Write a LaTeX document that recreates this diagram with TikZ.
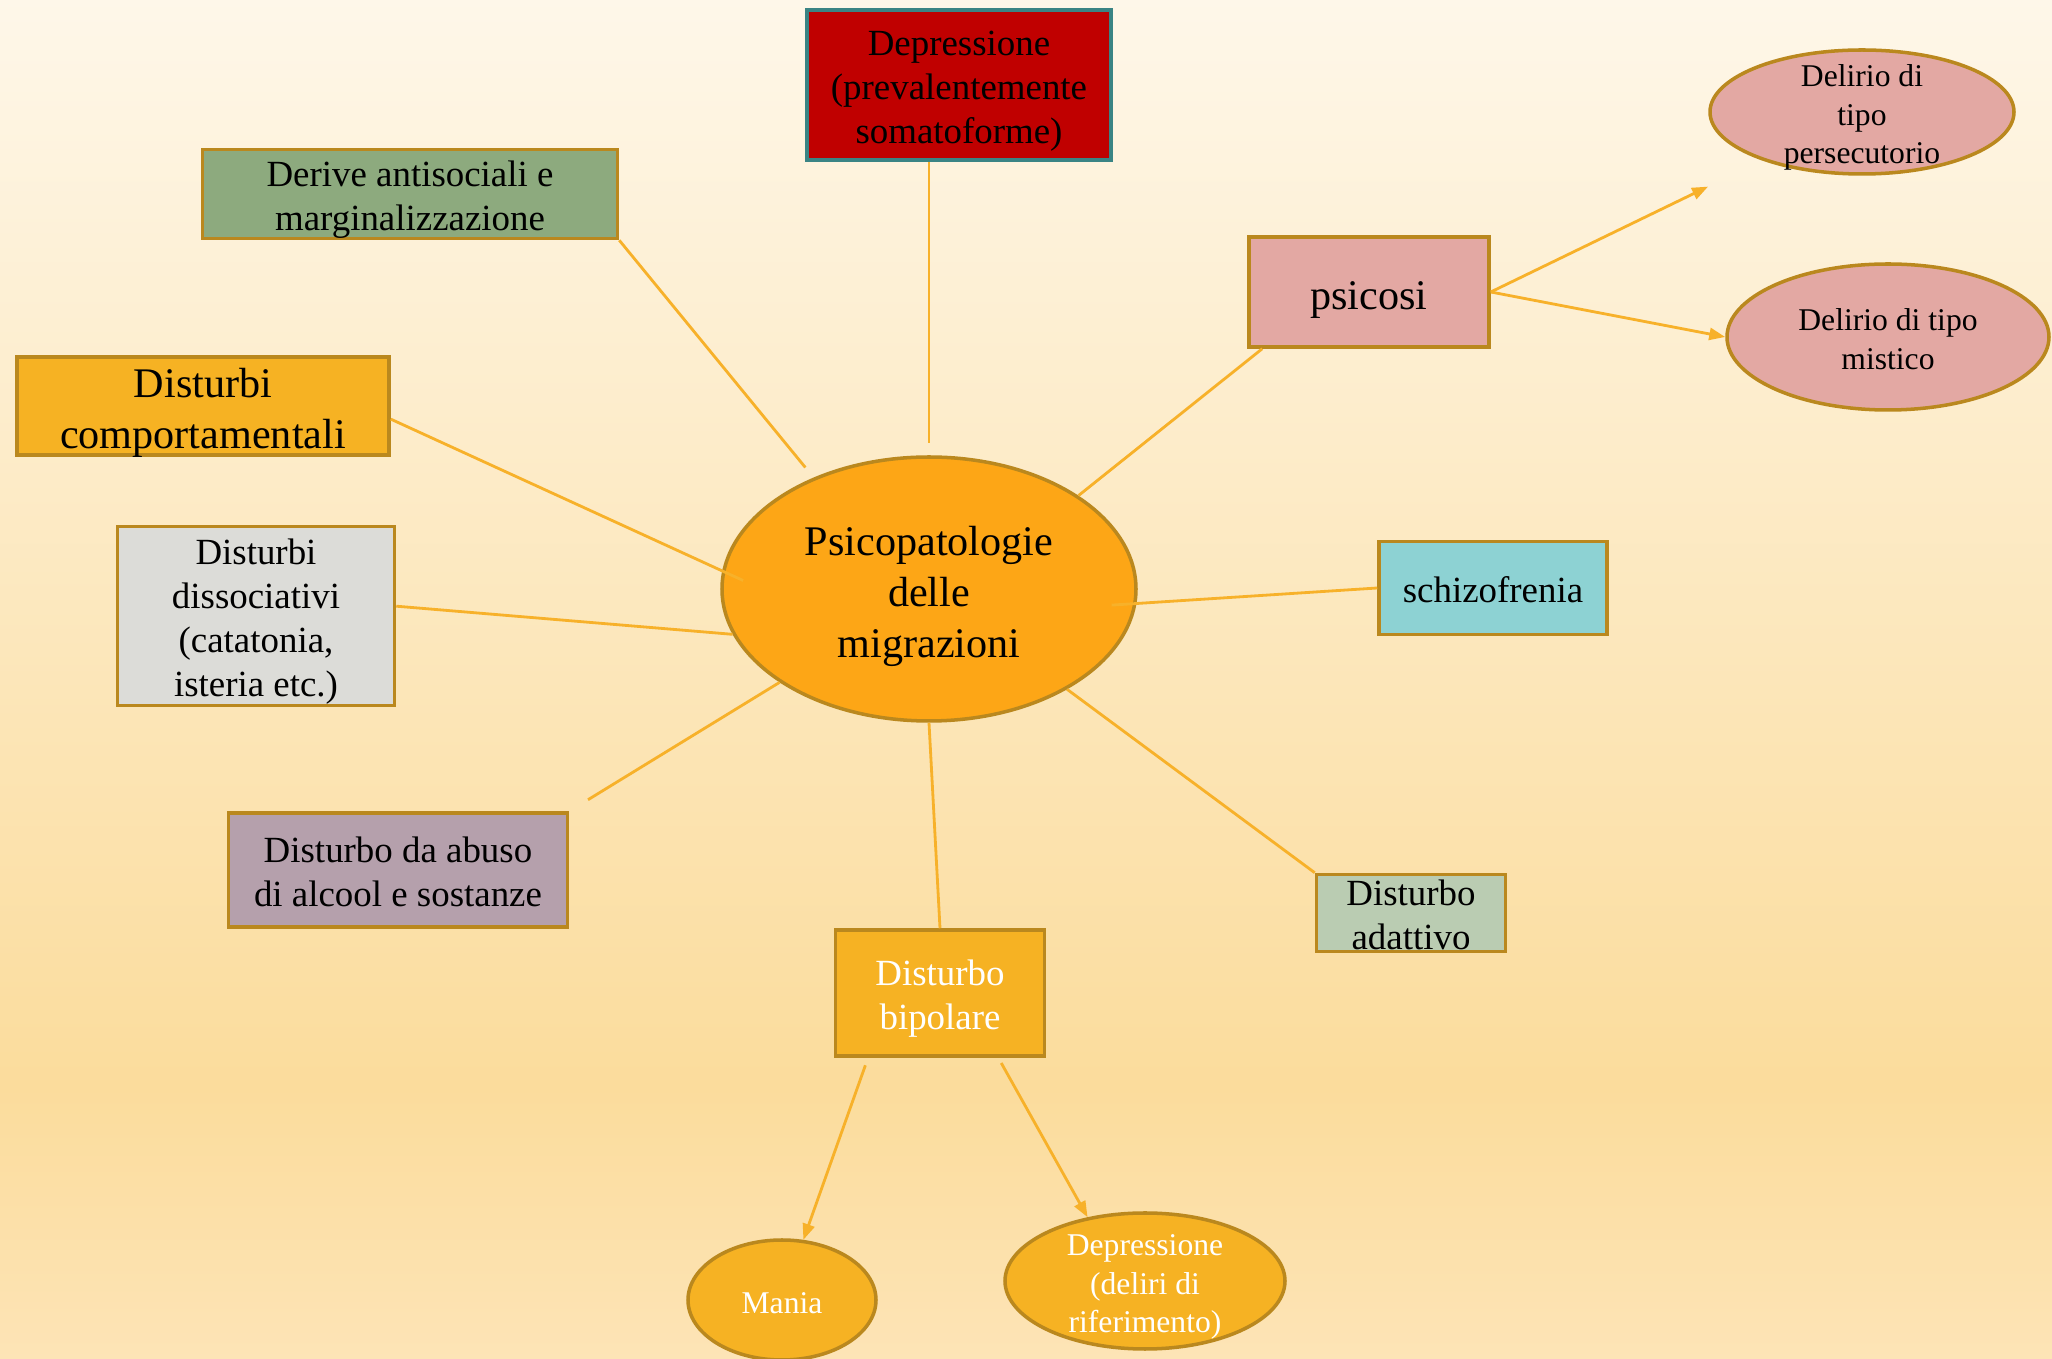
\documentclass[tikz,border=0pt]{standalone}
\usepackage{fontspec}
\setmainfont{Liberation Serif}
\usepackage{tikz}
\usetikzlibrary{arrows.meta,shapes.geometric}
\definecolor{bgtop}{HTML}{FEF7E9}
\definecolor{bgmid}{HTML}{FBDC9C}
\definecolor{bgbot}{HTML}{FDE4B6}
\definecolor{edgegold}{HTML}{BA881E}
\definecolor{linkgold}{HTML}{F7B12A}
\definecolor{deepred}{HTML}{C00000}
\definecolor{tealedge}{HTML}{3A8484}
\definecolor{sage}{HTML}{8DAA7E}
\definecolor{amber}{HTML}{F6B223}
\definecolor{fog}{HTML}{DCDCD8}
\definecolor{mauve}{HTML}{B5A0AC}
\definecolor{palesage}{HTML}{BACCB2}
\definecolor{aqua}{HTML}{8DD2D3}
\definecolor{rose}{HTML}{E3A8A3}
\definecolor{core}{HTML}{FDA616}
% text lines that do not stretch the node
\newcommand{\tx}[1]{\raisebox{-0.42em}[0pt][0pt]{\begin{tabular}{@{}c@{}}#1\end{tabular}}}

\begin{document}
\begin{tikzpicture}[
  x=0.1mm, y=-0.1mm,
  >=Stealth,
  box/.style={rectangle,draw=edgegold,line width=1pt,inner sep=0pt,font=\fontsize{10.5}{12.5}\selectfont},
  bubble/.style={ellipse,draw=edgegold,line width=1pt,inner sep=0pt,font=\fontsize{9}{11}\selectfont},
  big/.style={font=\fontsize{12}{14.5}\selectfont},
  link/.style={draw=linkgold,line width=0.8pt},
  arr/.style={link,-{Triangle[length=1.6mm,width=1.2mm]}}
]
% background
\path[use as bounding box] (0,0) rectangle (2052,1359);
\shade[top color=bgtop,bottom color=bgmid] (0,0) rectangle (2052,1087);
\shade[top color=bgmid,bottom color=bgbot] (0,1087) rectangle (2052,1359);
% centre
\node[bubble,big,fill=core,minimum width=41.4mm,minimum height=26.4mm] (cen) at (929,589)
  {\tx{Psicopatologie\\delle\\migrazioni}};
% boxes round the centre
\node[box,fill=deepred,draw=tealedge,minimum width=30.4mm,minimum height=15mm] (dep) at (959,85)
  {\tx{Depressione\\(prevalentemente\\somatoforme)}};
\node[box,fill=sage,minimum width=41.5mm,minimum height=8.9mm] (der) at (410,194)
  {\tx{Derive antisociali e\\marginalizzazione}};
\node[box,big,fill=amber,minimum width=37.2mm,minimum height=9.8mm] (comp) at (203,406)
  {\tx{Disturbi\\comportamentali}};
\node[box,fill=fog,minimum width=27.7mm,minimum height=17.9mm] (diss) at (256,616)
  {\tx{Disturbi\\dissociativi\\(catatonia,\\isteria etc.)}};
\node[box,fill=mauve,minimum width=33.9mm,minimum height=11.4mm] (abuso) at (398,870)
  {\tx{Disturbo da abuso\\di alcool e sostanze}};
\node[box,fill=amber,text=white,minimum width=20.9mm,minimum height=12.6mm] (bip) at (940,993)
  {\tx{Disturbo\\bipolare}};
\node[box,fill=palesage,minimum width=18.9mm,minimum height=7.7mm] (adat) at (1411,913)
  {\tx{Disturbo\\adattivo}};
\node[box,fill=aqua,minimum width=22.8mm,minimum height=9.3mm] (schizo) at (1493,588)
  {\tx{schizofrenia}};
\node[box,big,fill=rose,minimum width=24mm,minimum height=11mm] (psic) at (1369,292)
  {\tx{psicosi}};
% sub-items
\node[bubble,fill=rose,minimum width=30.4mm,minimum height=12.4mm] (pers) at (1862,112)
  {\tx{Delirio di\\tipo\\persecutorio}};
\node[bubble,fill=rose,minimum width=32.2mm,minimum height=14.6mm] (mist) at (1888,337)
  {\tx{Delirio di tipo\\mistico}};
\node[bubble,fill=amber,text=white,minimum width=18.8mm,minimum height=12mm] (mania) at (782,1300)
  {\tx{Mania}};
\node[bubble,fill=amber,text=white,minimum width=28mm,minimum height=13.6mm] (depr) at (1145,1281)
  {\tx{Depressione\\(deliri di\\riferimento)}};
% spokes
\draw[link,shorten >=1.2mm] (dep.south -| cen) -- (cen.north);
\draw[link,shorten >=1.3mm] (der.south east) -- (cen.136);
\draw[link,shorten >=-2.3mm] (comp.-4) -- (cen.175);
\draw[link] (diss.4) -- (cen.193);
\draw[link,shorten <=2.2mm] (abuso.north east) -- (cen.212);
\draw[link] (cen.south) -- (bip.north);
\draw[link] (cen.-36) -- (adat.north west);
\draw[link,shorten >=-2.5mm] (schizo.west) -- (cen.-4);
\draw[link] (cen.32) -- (psic.208);
% arrows
\draw[arr,shorten >=6mm] (psic.east) -- (pers);
\draw[arr] (psic.east) -- (mist.west);
\draw[arr,shorten <=0.8mm] (bip.222) -- (mania);
\draw[arr,shorten <=0.6mm] (bip.-48) -- (depr.132);
\end{tikzpicture}
\end{document}
